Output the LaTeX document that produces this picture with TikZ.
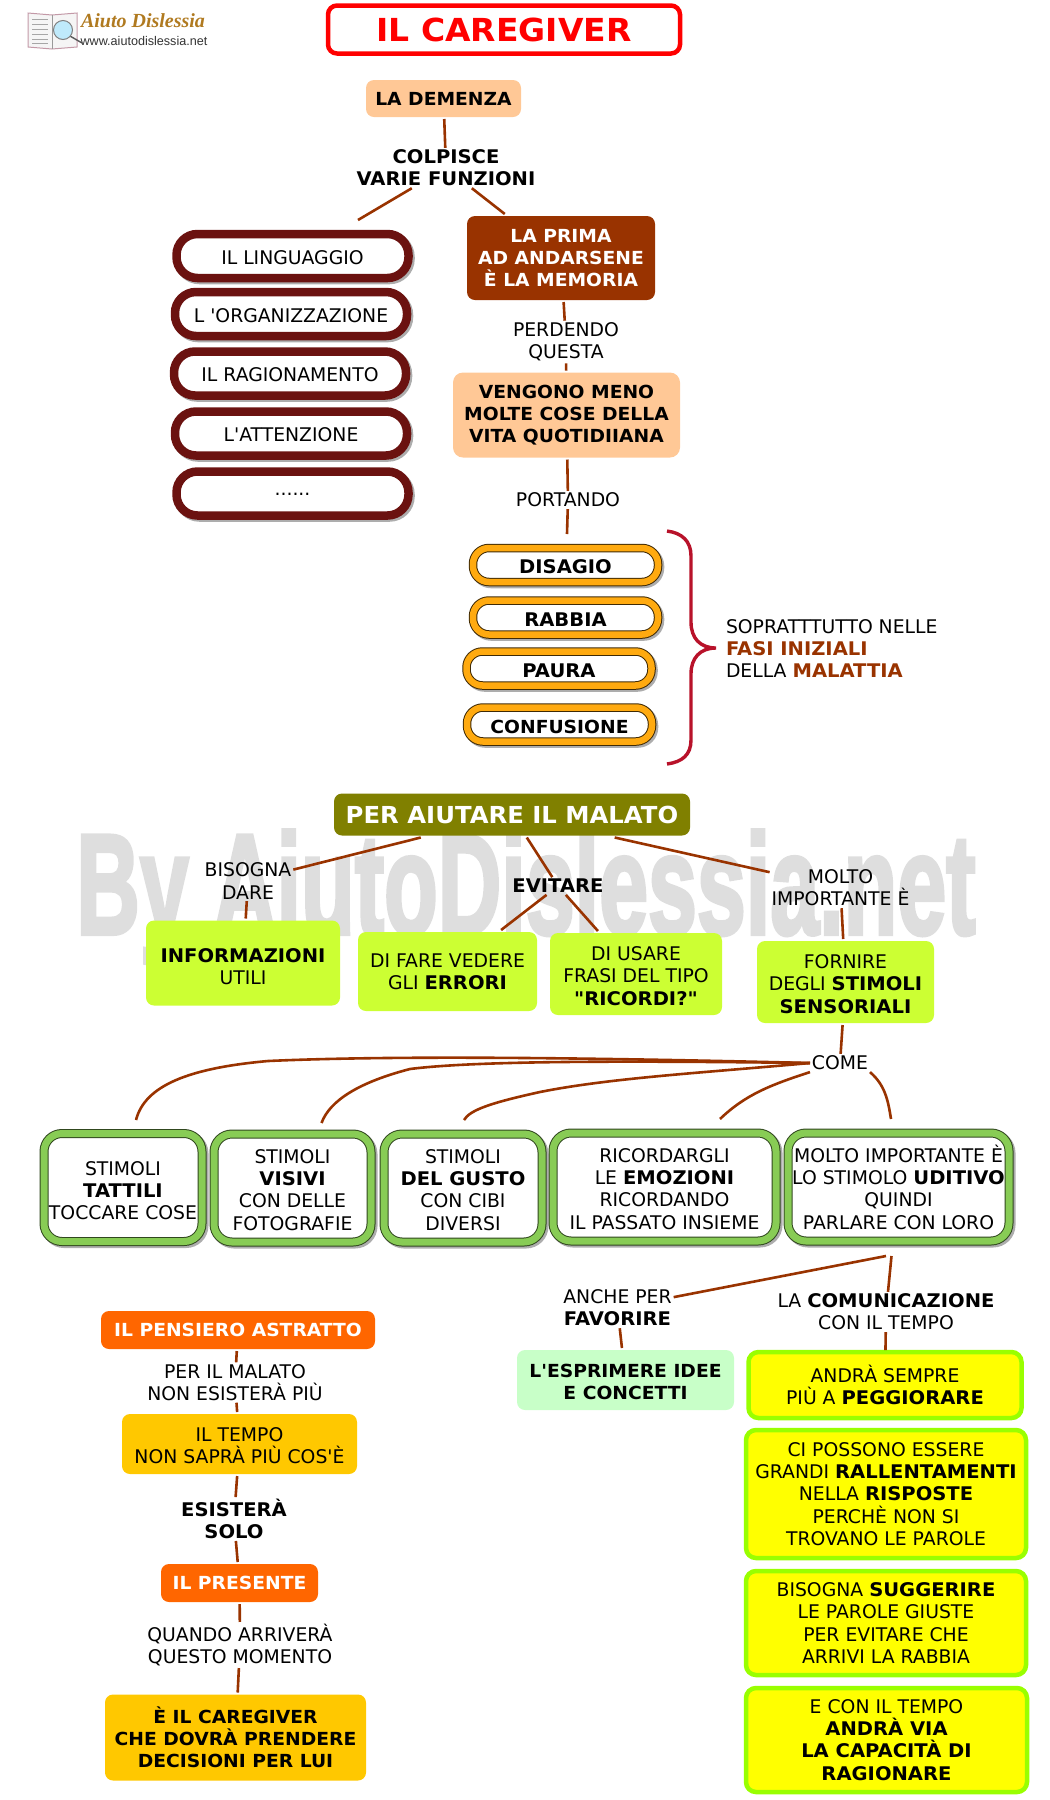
\documentclass[tikz,border=0pt]{standalone}
\usepackage{fontspec}
\setmainfont{DejaVu Sans}[Ligatures=TeXOff,BoldFeatures={FakeStretch=1.04}]
\newfontfamily\markfont{Liberation Sans}[BoldFeatures={FakeBold=3}]
\newfontfamily\logofont{Liberation Serif}
\newcommand{\TopPad}[1]{\rule{0pt}{#1pt}}
\definecolor{linkbrown}{HTML}{993300}
\definecolor{peach}{HTML}{FFC896}
\definecolor{olivebar}{HTML}{808000}
\definecolor{lime}{HTML}{CCFF33}
\definecolor{ringred}{HTML}{6B1210}
\definecolor{ringgold}{HTML}{FFAA10}
\definecolor{ringgreen}{HTML}{88CC55}
\definecolor{deeporange}{HTML}{FF6600}
\definecolor{amber}{HTML}{FFC800}
\definecolor{mint}{HTML}{C8FFC8}
\definecolor{limeborder}{HTML}{99FF00}
\definecolor{bracered}{HTML}{B8122A}
\definecolor{signyellow}{HTML}{FFFF00}
\definecolor{logogold}{HTML}{B07A20}

\begin{document}
\begin{tikzpicture}[
  x=1pt, y=-1pt,
  every node/.style = {align=center, font=\fontsize{18.8}{22.2}\selectfont},
  BoldText/.style = {font=\bfseries\fontsize{18.8}{22.2}\selectfont},
  NarrowText/.style = {font=\bfseries\fontsize{18}{22.2}\selectfont},
  TextLabel/.style = {inner sep=1pt, outer sep=1pt},
  FlatBox/.style = {fill=#1, rounded corners=8pt, inner sep=0pt, outer sep=2pt},
  LinkEdge/.style = {draw=linkbrown, line width=2.6pt}
  ]
  \useasboundingbox (0,0) rectangle (1050,1800);

  \tikzset{RingShadow/.style = {preaction={draw=black!32, line width=#1pt, transform canvas={shift={(2pt,-2pt)}}}}}
  \tikzset{RedRing/.style   = {RingShadow=8.5, draw=ringred, line width=8.5pt, fill=white, rounded corners=21pt,
    minimum width=232, minimum height=44, inner sep=0pt, text height=16pt, text depth=0pt}}
  \tikzset{GoldRing/.style  = {RingShadow=8.5, draw=black!75!ringgold, line width=1pt, double=ringgold, double distance=6.5pt,
    fill=white, rounded corners=16pt, minimum width=185, minimum height=34, inner sep=0pt, text height=17pt, text depth=0pt}}
  \tikzset{GreenRing/.style = {RingShadow=9, draw=black!65!ringgreen, line width=1pt, double=ringgreen, double distance=7pt,
    fill=white, rounded corners=18pt, minimum height=108, inner sep=0pt}}
  \tikzset{YellowBox/.style = {draw=limeborder, line width=4.5pt, fill=signyellow, rounded corners=10pt, inner sep=0pt, outer sep=2pt}}

  % watermark
  \node[font=\markfont\bfseries\fontsize{143}{150}\selectfont, text=black!13, transform shape, xscale=0.615, inner sep=0pt] (mark) at (526,897) {By AiutoDislessia.net};

  % logo
  \draw[draw=black!45!purple!40, fill=black!4, line width=1pt] (28,13) -- (52,15) -- (77,13) -- (77,47) -- (52,49) -- (28,47) -- cycle;
  \draw[draw=black!40, line width=.8pt] (52,15) -- (52,49);
  \foreach \ly in {19,24,29,34,39,43}
    \draw[black!35, line width=.8pt] (32,\ly) -- (48,\ly);
  \draw[black!65, line width=1.4pt] (70,36) -- (82,43);
  \draw[draw=black!50, fill=cyan!25, line width=1pt] (63,30) circle (9.5);
  \node[font=\logofont\bfseries\itshape\fontsize{20}{22}\selectfont, text=logogold, inner sep=0pt] (logotext) at (143,21) {Aiuto Dislessia};
  \node[font=\markfont\fontsize{12.6}{14}\selectfont, text=black!80, inner sep=0pt] (logoweb) at (144,41) {www.aiutodislessia.net};

  \node[draw=red, line width=4.5pt, fill=white, rounded corners=9pt, minimum width=352, minimum height=48,
    font=\bfseries\fontsize{31.7}{34}\selectfont, text=red, inner sep=0pt] (title) at (504,29.5) {IL CAREGIVER};

  % first part
  \node[FlatBox=peach, minimum width=155, minimum height=37, NarrowText] (demenza) at (443.5,98.5) {LA DEMENZA};
  \node[TextLabel, BoldText] (colpisce) at (446,168) {COLPISCE\\VARIE FUNZIONI};
  \coordinate (listTop) at (358,220);
  \node[FlatBox=linkbrown, minimum width=188, minimum height=84, text=white, NarrowText] (prima) at (561,258) {LA PRIMA\\AD ANDARSENE\\È LA MEMORIA};
  \node[TextLabel] (perdendo) at (566,342) {PERDENDO\\QUESTA};
  \node[FlatBox=peach, rounded corners=10pt, minimum width=227, minimum height=85, NarrowText] (vengono) at (566.5,415) {VENGONO MENO\\MOLTE COSE DELLA\\VITA QUOTIDIIANA};
  \node[TextLabel] (portando) at (568,500) {PORTANDO};
  \coordinate (goldTop) at (567,534);

  \node[RedRing] (linguaggio) at (292.5,256) {IL LINGUAGGIO};
  \node[RedRing] (organizza) at (291,314) {L 'ORGANIZZAZIONE};
  \node[RedRing] (ragiona) at (290,373.5) {IL RAGIONAMENTO};
  \node[RedRing] (attenzione) at (291,433.5) {L'ATTENZIONE};
  \node[RedRing, text height=3pt] (puntini) at (292.5,493.5) {......};

  \node[GoldRing, BoldText] (disagio) at (565.5,565) {DISAGIO};
  \node[GoldRing, BoldText] (rabbia) at (565.5,617.5) {RABBIA};
  \node[GoldRing, BoldText] (paura) at (559,668.5) {PAURA};
  \node[GoldRing, NarrowText] (confusione) at (559.5,724.5) {CONFUSIONE};

  \draw[bracered, line width=3.4pt] (667,531) .. controls (682,533) and (691,541) .. (691,556)
    -- (691,622) .. controls (691,638) and (700,648) .. (716,648)
    .. controls (700,648) and (691,658) .. (691,674)
    -- (691,740) .. controls (691,755) and (682,762) .. (667,764);
  \node[TextLabel, align=left, anchor=west] (fasi) at (724,648.5) {SOPRATTTUTTO NELLE\\\textcolor{linkbrown}{\textbf{FASI INIZIALI}}\\DELLA \textcolor{linkbrown}{\textbf{MALATTIA}}};

  \draw[LinkEdge] (demenza) -- (colpisce);
  \draw[LinkEdge] (colpisce) -- (prima);
  \draw[LinkEdge] (colpisce) -- (listTop);
  \draw[LinkEdge] (prima) -- (perdendo);
  \draw[LinkEdge] (perdendo) -- (vengono);
  \draw[LinkEdge] (vengono) -- (portando);
  \draw[LinkEdge] (portando) -- (goldTop);

  % second part
  \node[FlatBox=olivebar, minimum width=356, minimum height=42, text=white, font=\bfseries\fontsize{23.4}{28}\selectfont] (aiutare) at (512,814.5) {PER AIUTARE IL MALATO};
  \node[TextLabel] (bisogna) at (248,881) {BISOGNA\\DARE};
  \node[TextLabel, BoldText] (evitare) at (558,886) {EVITARE};
  \node[TextLabel] (molto) at (840.5,888) {MOLTO\\IMPORTANTE È};
  \node[FlatBox=lime, minimum width=194, minimum height=85] (informa) at (243,963) {\TopPad{22}\textbf{INFORMAZIONI}\\UTILI};
  \node[FlatBox=lime, minimum width=179, minimum height=79] (errori) at (447.5,971.5) {DI FARE VEDERE\\GLI \textbf{ERRORI}};
  \node[FlatBox=lime, minimum width=172, minimum height=82] (ricordi) at (636,974) {\TopPad{18}DI USARE\\FRASI DEL TIPO\\\textbf{"RICORDI?"}};
  \node[FlatBox=lime, minimum width=177, minimum height=82] (fornire) at (845.5,982) {\TopPad{18}FORNIRE\\DEGLI \textbf{STIMOLI}\\\textbf{SENSORIALI}};
  \node[TextLabel] (come) at (840,1063) {COME};

  \draw[LinkEdge] (aiutare) -- (bisogna);
  \draw[LinkEdge] (bisogna) -- (informa);
  \draw[LinkEdge] (aiutare) -- (evitare);
  \draw[LinkEdge] (evitare) -- (errori);
  \draw[LinkEdge] (evitare) -- (ricordi);
  \draw[LinkEdge] (aiutare) -- (molto);
  \draw[LinkEdge] (molto) -- (fornire);
  \draw[LinkEdge] (fornire) -- (come);

  \node[GreenRing, minimum width=158] (tattili) at (123,1187.5) {\TopPad{20}STIMOLI\\\textbf{TATTILI}\\TOCCARE COSE};
  \node[GreenRing, minimum width=157] (visivi) at (292.5,1188) {\TopPad{18}STIMOLI\\\textbf{VISIVI}\\CON DELLE\\FOTOGRAFIE};
  \node[GreenRing, minimum width=158] (gusto) at (463,1188) {\TopPad{18}STIMOLI\\\textbf{DEL GUSTO}\\CON CIBI\\DIVERSI};
  \node[GreenRing, minimum width=223] (emozioni) at (664.5,1187) {\TopPad{18}RICORDARGLI\\LE \textbf{EMOZIONI}\\RICORDANDO\\IL PASSATO INSIEME};
  \node[GreenRing, minimum width=221] (uditivo) at (898.5,1187) {\TopPad{18}MOLTO IMPORTANTE È\\LO STIMOLO \textbf{UDITIVO}\\QUINDI\\PARLARE CON LORO};

  \coordinate (tattiliTop) at (136,1120);
  \coordinate (visiviTop) at (321.5,1123);
  \coordinate (gustoTop) at (464,1120);
  \coordinate (emozioniTop) at (720,1119);
  \coordinate (uditivoTop) at (891,1119);
  \draw[LinkEdge] (come.west) .. controls (600,1058) and (400,1055) .. (268,1061) .. controls (190,1068) and (145,1085) .. (tattiliTop);
  \draw[LinkEdge] (come.west) .. controls (650,1061) and (480,1060) .. (410,1069) .. controls (360,1082) and (330,1100) .. (visiviTop);
  \draw[LinkEdge] (come.west) .. controls (700,1073) and (610,1078) .. (540,1092) .. controls (490,1103) and (470,1110) .. (gustoTop);
  \draw[LinkEdge] (come.south west) .. controls (770,1085) and (745,1095) .. (emozioniTop);
  \draw[LinkEdge] (come.south east) .. controls (885,1085) and (888,1100) .. (uditivoTop);

  % left column
  \node[FlatBox=deeporange, minimum width=274, minimum height=38, text=white, NarrowText] (pensiero) at (238,1330) {IL PENSIERO ASTRATTO};
  \node[TextLabel] (malato) at (235,1382.5) {PER IL MALATO\\NON ESISTERÀ PIÙ};
  \node[FlatBox=amber, minimum width=235, minimum height=60] (tempo) at (239.5,1444) {\TopPad{18}IL TEMPO\\NON SAPRÀ PIÙ COS'È};
  \node[TextLabel, BoldText] (esistera) at (234,1519) {ESISTERÀ\\SOLO};
  \node[FlatBox=deeporange, minimum width=157, minimum height=38, text=white, NarrowText] (presente) at (239.5,1583) {IL PRESENTE};
  \node[TextLabel] (quando) at (240,1645) {QUANDO ARRIVERÀ\\QUESTO MOMENTO};
  \node[FlatBox=amber, minimum width=261, minimum height=86, NarrowText] (caregiver) at (235.5,1737.5) {È IL CAREGIVER\\CHE DOVRÀ PRENDERE\\DECISIONI PER LUI};

  \draw[LinkEdge] (pensiero) -- (malato);
  \draw[LinkEdge] (malato) -- (tempo);
  \draw[LinkEdge] (tempo) -- (esistera);
  \draw[LinkEdge] (esistera) -- (presente);
  \draw[LinkEdge] (presente) -- (quando);
  \draw[LinkEdge] (quando) -- (caregiver);

  % right column
  \coordinate (hubLeft) at (886,1256);
  \coordinate (hubRight) at (891.5,1256);
  \node[TextLabel] (anche) at (617.5,1308) {ANCHE PER\\\textbf{FAVORIRE}};
  \node[TextLabel] (comunica) at (886,1312) {LA \textbf{COMUNICAZIONE}\\CON IL TEMPO};
  \node[FlatBox=mint, minimum width=217, minimum height=60, NarrowText] (idee) at (625.5,1380) {\TopPad{18}L'ESPRIMERE IDEE\\E CONCETTI};
  \node[YellowBox, minimum width=273, minimum height=66] (peggio) at (885,1385) {\TopPad{18}ANDRÀ SEMPRE\\PIÙ A \textbf{PEGGIORARE}};
  \node[YellowBox, minimum width=280, minimum height=128] (rallenta) at (886,1494) {CI POSSONO ESSERE\\GRANDI \textbf{RALLENTAMENTI}\\NELLA \textbf{RISPOSTE}\\PERCHÈ NON SI\\TROVANO LE PAROLE};
  \node[YellowBox, minimum width=280, minimum height=104] (suggerire) at (886,1623) {BISOGNA \textbf{SUGGERIRE}\\LE PAROLE GIUSTE\\PER EVITARE CHE\\ARRIVI LA RABBIA};
  \node[YellowBox, minimum width=281, minimum height=104] (capacita) at (886.5,1740) {E CON IL TEMPO\\\textbf{ANDRÀ VIA}\\\textbf{LA CAPACITÀ DI}\\\textbf{RAGIONARE}};

  \draw[LinkEdge] (hubLeft) -- (anche);
  \draw[LinkEdge] (hubRight) -- (comunica);
  \draw[LinkEdge] (anche) -- (idee);
  \draw[LinkEdge] (comunica) -- (peggio);

\end{tikzpicture}
\end{document}
